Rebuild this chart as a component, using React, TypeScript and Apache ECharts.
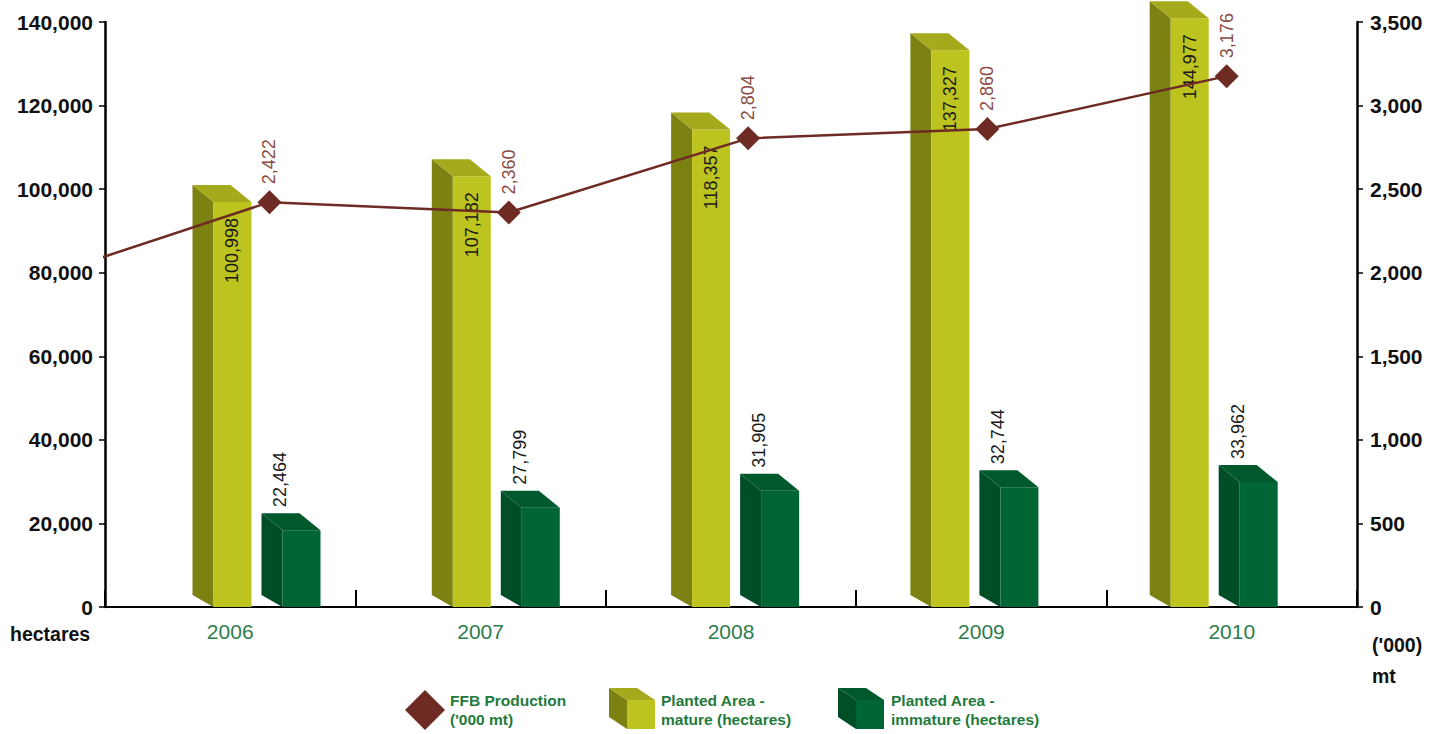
import React, { useEffect, useRef } from "react";
import * as echarts from "echarts";

// ---- data ----
const years = ["2006", "2007", "2008", "2009", "2010"];
const matureArea = [100998, 107182, 118357, 137327, 144977]; // hectares
const immatureArea = [22464, 27799, 31905, 32744, 33962]; // hectares
const ffbProduction = [2422, 2360, 2804, 2860, 3176]; // '000 mt
const ffbLeadIn = 1950; // line entering from the left edge (previous year, unlabelled)

const leftAxis = { min: 0, max: 140000, interval: 20000 };
const rightAxis = { min: 0, max: 3500, interval: 500 };

const FONT = "'Liberation Sans', Arial, Helvetica, sans-serif";
const fmt = (v: number) => Number(v).toLocaleString("en-US");

const matureColors = { front: "#bdc31f", side: "#7b8212", top: "#a4aa1b" };
const immatureColors = { front: "#006534", side: "#004e27", top: "#00592d" };

function boxRenderer(colors: any, frontOffset: number, labelAbove: boolean) {
  return (params: any, api: any) => {
    const idx = api.value(0);
    const v = api.value(1);
    const top = api.coord([idx, v]);
    const base = api.coord([idx, 0]);
    const c = top[0];
    const w = 38;
    const dx = 21;
    const dy = 17;
    const fx0 = c + frontOffset;
    const fx1 = fx0 + w;
    const backTop = top[1];
    const frontTop = backTop + dy;
    const by = base[1];
    const children: any[] = [
      {
        type: "polygon",
        shape: { points: [[fx0, frontTop], [fx0 - dx, backTop], [fx0 - dx, by - 12], [fx0, by]] },
        style: { fill: colors.side },
      },
      {
        type: "rect",
        shape: { x: fx0, y: frontTop, width: w, height: by - frontTop },
        style: { fill: colors.front },
      },
      {
        type: "polygon",
        shape: { points: [[fx0, frontTop], [fx0 - dx, backTop], [fx1 - dx, backTop], [fx1, frontTop]] },
        style: { fill: colors.top },
      },
    ];
    if (labelAbove) {
      children.push({
        type: "text",
        x: fx0 - 2,
        y: backTop - 6,
        rotation: Math.PI / 2,
        style: { text: fmt(v), fill: "#1a1a1a", font: `18px ${FONT}`, align: "left", verticalAlign: "middle" },
      });
    } else {
      children.push({
        type: "text",
        x: fx0 + w / 2,
        y: frontTop + 16,
        rotation: Math.PI / 2,
        style: { text: fmt(v), fill: "#1a1a1a", font: `18px ${FONT}`, align: "right", verticalAlign: "middle" },
      });
    }
    return { type: "group", children };
  };
}

function cube(x: number, y: number, colors: any) {
  // x,y = top-left of front face
  const w = 28, h = 29, dx = 18, dy = 12;
  return [
    { type: "polygon", shape: { points: [[x, y], [x - dx, y - dy], [x - dx, y + h - dy], [x, y + h]] }, style: { fill: colors.side } },
    { type: "rect", shape: { x, y, width: w, height: h }, style: { fill: colors.front } },
    { type: "polygon", shape: { points: [[x, y], [x - dx, y - dy], [x + w - dx, y - dy], [x + w, y]] }, style: { fill: colors.top } },
  ];
}

export default function App() {
  const ref = useRef<HTMLDivElement>(null);
  useEffect(() => {
    if (!ref.current) return;
    const chart = echarts.init(ref.current, null, { renderer: "svg" });
    const legendText = { fill: "#1f7a3c", font: `bold 15.5px ${FONT}` };
    chart.setOption({
      animation: false,
      backgroundColor: "#ffffff",
      grid: { left: 105, right: 89, top: 22, bottom: 127, containLabel: false },
      xAxis: [
        {
          type: "category",
          data: years,
          boundaryGap: true,
          axisLine: { show: true, onZero: false, lineStyle: { color: "#000", width: 2 } },
          axisTick: { show: true, inside: true, length: 17, interval: 0, lineStyle: { color: "#000", width: 2 } },
          axisLabel: { color: "#2e7d4e", fontSize: 21, fontFamily: FONT, margin: 14 },
          splitLine: { show: false },
        },
        { type: "value", show: false, min: -0.6874, max: 4.5445 },
      ],
      yAxis: [
        {
          type: "value",
          ...leftAxis,
          position: "left",
          axisLine: { show: true, onZero: false, lineStyle: { color: "#000", width: 2.5 } },
          axisTick: { show: true, length: 6, lineStyle: { color: "#000", width: 1.5 } },
          axisLabel: { color: "#111", fontSize: 21, fontWeight: "bold", fontFamily: FONT, margin: 12, formatter: (v: number) => fmt(v) },
          splitLine: { show: false },
        },
        {
          type: "value",
          ...rightAxis,
          position: "right",
          axisLine: { show: true, onZero: false, lineStyle: { color: "#000", width: 2.5 } },
          axisTick: { show: true, length: 6, lineStyle: { color: "#000", width: 1.5 } },
          axisLabel: { color: "#111", fontSize: 21, fontWeight: "bold", fontFamily: FONT, margin: 13, formatter: (v: number) => fmt(v) },
          splitLine: { show: false },
        },
      ],
      series: [
        {
          name: "Planted Area - mature (hectares)",
          type: "custom",
          xAxisIndex: 1,
          yAxisIndex: 0,
          encode: { x: 0, y: 1 },
          data: matureArea.map((v, i) => [i, v]),
          renderItem: boxRenderer(matureColors, -56, false),
          z: 2,
        },
        {
          name: "Planted Area - immature (hectares)",
          type: "custom",
          xAxisIndex: 1,
          yAxisIndex: 0,
          encode: { x: 0, y: 1 },
          data: immatureArea.map((v, i) => [i, v]),
          renderItem: boxRenderer(immatureColors, 13, true),
          z: 2,
        },
        {
          name: "FFB Production ('000 mt)",
          type: "line",
          xAxisIndex: 1,
          yAxisIndex: 1,
          clip: true,
          z: 5,
          symbol: "diamond",
          symbolSize: 24,
          itemStyle: { color: "#6e2b24" },
          lineStyle: { color: "#6e2b24", width: 2.5 },
          label: {
            show: true,
            position: "top",
            distance: 6,
            rotate: 90,
            align: "left",
            verticalAlign: "middle",
            color: "#8a4b43",
            fontSize: 18,
            fontFamily: FONT,
            formatter: (p: any) => fmt(p.value[1]),
          },
          data: [
            { value: [-1, ffbLeadIn], symbol: "none", label: { show: false } },
            ...ffbProduction.map((v, i) => ({ value: [i, v] })),
          ],
        },
      ],
      graphic: [
        { type: "text", left: 10, top: 624, style: { text: "hectares", fill: "#111", font: `bold 19.5px ${FONT}` } },
        { type: "text", left: 1372, top: 635, style: { text: "('000)", fill: "#111", font: `bold 19.5px ${FONT}` } },
        { type: "text", left: 1372, top: 666, style: { text: "mt", fill: "#111", font: `bold 19.5px ${FONT}` } },
        {
          type: "polygon",
          shape: { points: [[425, 690], [445, 710], [425, 730], [405, 710]] },
          style: { fill: "#6e2b24" },
        },
        { type: "text", x: 450, y: 692, style: { text: "FFB Production", ...legendText } },
        { type: "text", x: 450, y: 711, style: { text: "('000 mt)", ...legendText } },
        ...cube(627, 700, matureColors),
        { type: "text", x: 661, y: 692, style: { text: "Planted Area -", ...legendText } },
        { type: "text", x: 661, y: 711, style: { text: "mature (hectares)", ...legendText } },
        ...cube(856, 700, immatureColors),
        { type: "text", x: 891, y: 692, style: { text: "Planted Area -", ...legendText } },
        { type: "text", x: 891, y: 711, style: { text: "immature (hectares)", ...legendText } },
      ],
    });
    return () => chart.dispose();
  }, []);
  return (
    <div
      ref={ref}
      style={{ position: "fixed", left: 0, top: 0, width: 1446, height: 734, background: "#fff" }}
    />
  );
}
